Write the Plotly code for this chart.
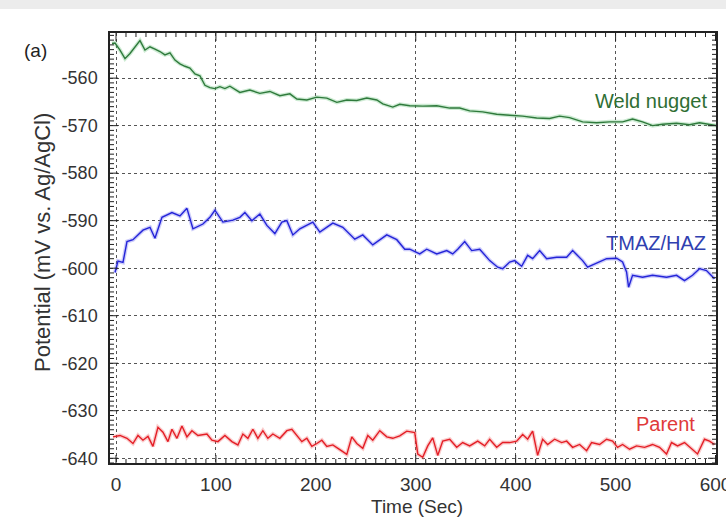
import plotly.graph_objects as go

# ---- data ----
weld_t = [-4, -1, 4, 9, 14, 19, 24, 29, 34, 39, 44, 49, 54, 59, 64, 69, 74, 79, 84, 89, 94, 99, 104, 109, 114,
          124, 134, 144, 154, 164, 174, 181, 191, 201, 211, 221, 231, 241, 251, 261, 267, 277, 284, 294, 307,
          321, 334, 344, 354, 367, 381, 394, 407, 421, 434, 444, 454, 467, 481, 494, 507, 517, 527, 537, 547,
          561, 574, 584, 594, 601]
weld_v = [-552.7, -552.6, -554.1, -555.9, -554.8, -553.4, -552.1, -554.1, -553.4, -553.9, -554.4, -555.1,
          -554.7, -556.2, -557.0, -557.5, -557.9, -559.1, -559.5, -561.5, -562.0, -562.2, -561.8, -562.2,
          -561.7, -563.0, -562.5, -563.2, -562.8, -563.7, -563.3, -564.4, -564.6, -564.0, -564.2, -565.1,
          -564.6, -564.7, -564.2, -564.6, -565.4, -566.1, -565.5, -565.8, -565.9, -565.8, -566.3, -566.3,
          -566.9, -567.1, -567.6, -567.8, -568.0, -568.4, -568.5, -568.0, -568.3, -569.2, -569.4, -569.2,
          -569.2, -568.6, -569.2, -570.0, -569.7, -569.5, -569.8, -569.4, -569.8, -570.0]

tmaz_t = [-1, 2, 7, 11, 17, 27, 34, 39, 46, 56, 64, 71, 77, 87, 94, 99, 107, 117, 124, 129, 136, 144, 151,
          159, 166, 171, 177, 184, 197, 204, 217, 227, 239, 247, 257, 271, 281, 289, 294, 304, 311, 321,
          331, 337, 342, 349, 356, 364, 374, 382, 387, 394, 399, 406, 412, 417, 424, 431, 441, 451, 457,
          467, 472, 481, 491, 501, 507, 511, 513, 517, 527, 537, 551, 561, 569, 577, 584, 591, 599]
tmaz_v = [-600.9, -598.5, -598.8, -594.4, -594.0, -592.0, -591.4, -593.7, -589.3, -588.3, -589.0, -587.4,
          -591.7, -590.7, -589.3, -587.8, -590.3, -589.9, -589.3, -588.3, -590.0, -588.6, -591.0, -592.7,
          -590.3, -590.0, -593.0, -591.7, -590.3, -592.4, -590.5, -591.4, -593.9, -593.0, -595.1, -593.0,
          -594.0, -596.0, -596.0, -597.0, -596.0, -597.0, -596.3, -597.0, -596.0, -594.4, -596.3, -596.0,
          -598.4, -599.8, -600.1, -598.7, -598.4, -599.6, -597.3, -598.0, -596.3, -598.0, -597.7, -597.7,
          -596.3, -598.4, -599.8, -599.0, -598.0, -597.9, -598.7, -600.8, -604.0, -601.5, -601.9, -601.5,
          -601.9, -601.5, -602.6, -601.5, -600.1, -600.5, -602.2]

parent_t = [-3, 4, 11, 17, 22, 27, 32, 37, 42, 47, 52, 56, 61, 66, 71, 76, 82, 91, 96, 102, 109, 116, 122,
            127, 132, 137, 142, 147, 152, 157, 164, 171, 176, 181, 186, 191, 196, 201, 206, 211, 217, 224,
            231, 236, 241, 247, 252, 257, 264, 271, 277, 284, 291, 299, 302, 307, 312, 317, 322, 327, 334,
            341, 347, 354, 362, 369, 374, 381, 387, 394, 401, 407, 412, 417, 422, 427, 432, 439, 446, 451,
            457, 464, 471, 476, 484, 491, 497, 502, 507, 514, 521, 529, 537, 544, 551, 556, 562, 569, 577,
            582, 589, 594, 599]
parent_v = [-635.5, -635.2, -635.8, -636.9, -635.2, -636.2, -635.4, -637.5, -633.5, -634.5, -636.5, -633.9,
            -635.8, -633.2, -635.5, -634.2, -635.2, -634.9, -636.2, -636.5, -635.2, -636.5, -637.2, -634.9,
            -635.8, -633.9, -635.8, -634.2, -635.8, -634.9, -635.8, -634.2, -633.9, -635.2, -636.5, -635.8,
            -637.5, -636.9, -636.2, -637.5, -637.2, -638.2, -639.2, -635.5, -636.9, -637.9, -635.2, -636.2,
            -634.2, -635.5, -635.8, -635.3, -634.3, -634.6, -639.1, -639.8, -637.4, -635.7, -639.4, -636.4,
            -636.0, -637.7, -636.7, -637.4, -636.4, -637.4, -636.0, -637.7, -636.7, -636.7, -636.4, -635.0,
            -636.0, -634.3, -639.4, -636.0, -637.1, -636.0, -636.7, -636.4, -637.7, -637.1, -638.4, -636.7,
            -637.1, -636.0, -636.4, -637.7, -637.1, -638.1, -637.4, -637.7, -637.1, -637.7, -639.1, -636.7,
            -637.4, -636.7, -638.1, -639.1, -636.0, -636.4, -637.1]

x_ticks = [0, 100, 200, 300, 400, 500, 600]
y_ticks = [-560, -570, -580, -590, -600, -610, -620, -630, -640]
x_range = [-6, 600.5]
y_range = [-641, -550.5]

series = [
    ("Weld nugget", weld_t, weld_v, "#2f7a3c", "rgba(90,190,110,0.30)", "#2f6e33", 535, -564.9),
    ("TMAZ/HAZ", tmaz_t, tmaz_v, "#2424d8", "rgba(90,90,240,0.30)", "#3040b0", 540, -594.8),
    ("Parent", parent_t, parent_v, "#e41e26", "rgba(240,90,90,0.30)", "#e03a3a", 550, -632.8),
]

FONT = "Liberation Sans, Arial, sans-serif"
TXT = "#333333"
W, H = 726, 518
ML, MR, MT, MB = 110, 10, 33, 55
PW, PH = W - ML - MR, H - MT - MB

fig = go.Figure()
for name, t, v, col, halo, tcol, lx, ly in series:
    fig.add_trace(go.Scatter(x=t, y=v, mode="lines", line=dict(color=halo, width=4),
                             hoverinfo="skip", showlegend=False))
    fig.add_trace(go.Scatter(x=t, y=v, mode="lines", name=name,
                             line=dict(color=col, width=1.4), showlegend=False))
    fig.add_annotation(x=lx, y=ly, text=name, showarrow=False,
                       font=dict(family=FONT, size=20, color=tcol))

# panel label and axis titles
fig.add_annotation(x=-0.123, y=0.960, xref="paper", yref="paper", xanchor="center", yanchor="middle",
                   text="(a)", showarrow=False, font=dict(family=FONT, size=19, color="#222"))
fig.add_annotation(x=-0.1106, y=0.514, xref="paper", yref="paper", xanchor="center", yanchor="middle",
                   text="Potential (mV vs. Ag/AgCl)", textangle=-90, showarrow=False,
                   font=dict(family=FONT, size=22, color=TXT))
fig.add_annotation(x=0.507, y=-0.100, xref="paper", yref="paper", xanchor="center", yanchor="middle",
                   text="Time (Sec)", showarrow=False, font=dict(family=FONT, size=19, color=TXT))

# light gray band across the top of the picture
fig.add_shape(type="rect", xref="paper", yref="paper", x0=-0.2, x1=1.2, y0=1.0 + 24 / PH, y1=1.2,
              fillcolor="#ececec", line=dict(width=0), layer="below")


# inward tick marks on all four sides (major and minor), drawn as path shapes
def x_tick_path(values, length_px):
    L = length_px / PH
    return " ".join(f"M {v},0 L {v},{L} M {v},1 L {v},{1 - L}" for v in values)


def y_tick_path(values, length_px):
    L = length_px / PW
    return " ".join(f"M 0,{v} L {L},{v} M 1,{v} L {1 - L},{v}" for v in values)


x_minor = [v for v in range(0, 601, 10) if v not in x_ticks]
y_minor = [v for v in range(-641, -550) if v not in y_ticks]
tick_line = dict(color="#222", width=1)
fig.add_shape(type="path", xref="x", yref="paper", path=x_tick_path(x_ticks, 8), line=tick_line)
fig.add_shape(type="path", xref="x", yref="paper", path=x_tick_path(x_minor, 4), line=tick_line)
fig.add_shape(type="path", xref="paper", yref="y", path=y_tick_path(y_ticks, 8), line=tick_line)
fig.add_shape(type="path", xref="paper", yref="y", path=y_tick_path(y_minor, 4), line=tick_line)

axis_common = dict(showline=True, linecolor="#222", linewidth=1.5, mirror=True, ticks="",
                   tickmode="array", showgrid=True, gridcolor="#555", griddash="dot", gridwidth=1,
                   zeroline=False, automargin=False, ticklabeloverflow="allow")

fig.update_xaxes(range=x_range, tickvals=x_ticks, ticktext=[str(v) for v in x_ticks],
                 ticklabelstandoff=3, tickfont=dict(family=FONT, size=19, color=TXT), **axis_common)
fig.update_yaxes(range=y_range, tickvals=y_ticks, ticktext=[str(v) for v in y_ticks],
                 ticklabelstandoff=7, tickfont=dict(family=FONT, size=18, color=TXT), **axis_common)

fig.update_layout(width=W, height=H, margin=dict(l=ML, r=MR, t=MT, b=MB, autoexpand=False),
                  paper_bgcolor="white", plot_bgcolor="white", showlegend=False)

fig.write_html("out.html")
